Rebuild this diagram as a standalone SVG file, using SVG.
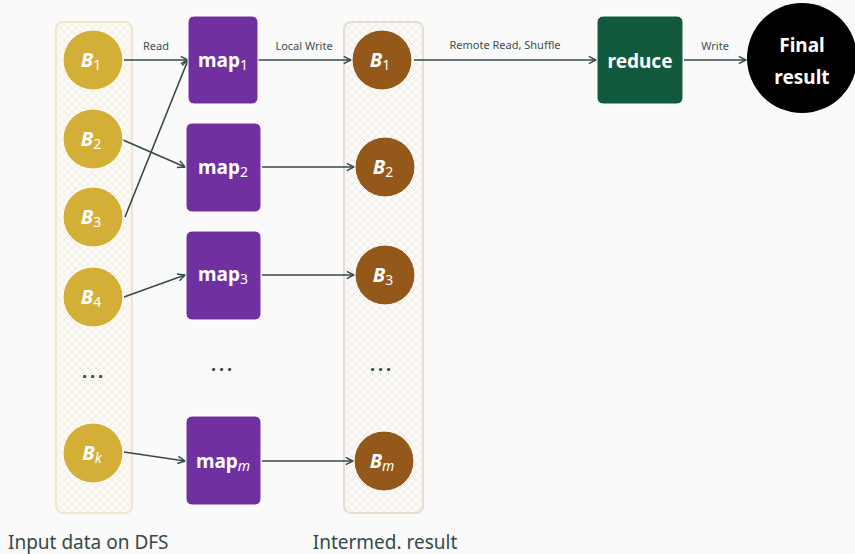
<svg xmlns="http://www.w3.org/2000/svg" width="855" height="554" viewBox="0 0 855 554">
<defs>
<pattern id="hatchY" width="8" height="8" patternUnits="userSpaceOnUse">
<path d="M0 0L8 8M8 0L0 8" stroke="#efe8d4" stroke-width="0.7"/>
</pattern>
<pattern id="hatchB" width="8" height="8" patternUnits="userSpaceOnUse">
<path d="M0 0L8 8M8 0L0 8" stroke="#ebe2d9" stroke-width="0.7"/>
</pattern>
<marker id="arr" viewBox="0 0 10 10" refX="9" refY="5" markerWidth="9" markerHeight="9" markerUnits="userSpaceOnUse" orient="auto">
<path d="M1 1L9 5L1 9" fill="none" stroke="#34494a" stroke-width="1.6" stroke-linejoin="miter"/>
</marker>
<style>
.edge{stroke:#34494a;stroke-width:1.6;fill:none;marker-end:url(#arr)}
.el{font-family:"Noto Sans","Open Sans",sans-serif;font-size:11px;fill:#3c4f50;text-anchor:middle}
.bt{font-family:"Noto Sans","Open Sans",sans-serif;font-size:20px;font-weight:bold;font-style:italic;fill:#fff;text-anchor:middle}
.sub{font-style:italic;font-weight:normal;font-size:14px}
.subn{font-style:normal;font-weight:normal;font-size:14px}
.mt{font-family:"Noto Sans","Open Sans",sans-serif;font-size:19px;font-weight:bold;fill:#fff;text-anchor:middle}
.yc{fill:#d4af37;stroke:#fff;stroke-width:1}
.bc{fill:#93581a;stroke:#fff;stroke-width:1}
.mb{fill:#7030a0;stroke:#fff;stroke-width:1}
.dots{font-family:"Noto Sans","Open Sans",sans-serif;font-size:18px;font-weight:bold;fill:#34494a;text-anchor:middle;letter-spacing:3px}
.cap{font-family:"Noto Sans","Open Sans",sans-serif;font-size:19px;fill:#34494a}
</style>
</defs>
<rect width="855" height="554" fill="#fafafa"/>

<g id="input-container">
<rect x="56" y="22" width="76" height="491" rx="7" fill="#fbfaf6" stroke="#f1e6c7" stroke-width="2"/>
<rect x="57" y="23" width="74" height="489" rx="6" fill="url(#hatchY)"/>
</g>
<g id="intermed-container">
<rect x="344" y="22" width="79" height="491" rx="7" fill="#fbfaf8" stroke="#e8dcce" stroke-width="2"/>
<rect x="345" y="23" width="77" height="489" rx="6" fill="url(#hatchB)"/>
</g>

<g id="connectors">
<line class="edge" x1="124" y1="60" x2="188" y2="60"/>
<text class="el" x="156" y="50">Read</text>
<line class="edge" x1="123" y1="140" x2="185" y2="167"/>
<line class="edge" x1="125" y1="217" x2="188" y2="60"/>
<line class="edge" x1="124" y1="297" x2="185" y2="275"/>
<line class="edge" x1="124" y1="452" x2="185" y2="461"/>
<line class="edge" x1="258" y1="60" x2="351" y2="60"/>
<text class="el" x="304" y="50">Local Write</text>
<line class="edge" x1="262" y1="167" x2="354" y2="167"/>
<line class="edge" x1="262" y1="275" x2="354" y2="275"/>
<line class="edge" x1="262" y1="461" x2="353" y2="461"/>
<line class="edge" x1="414" y1="60" x2="596" y2="60"/>
<text class="el" x="505" y="49">Remote Read, Shuffle</text>
<line class="edge" x1="684" y1="60" x2="746" y2="60"/>
<text class="el" x="715" y="50">Write</text>
</g>

<g id="B1"><circle class="yc" cx="93" cy="60" r="30"/><text class="bt" x="91" y="67">B<tspan class="subn" dy="3">1</tspan></text></g>
<g id="B2"><circle class="yc" cx="93" cy="139" r="30"/><text class="bt" x="91" y="146">B<tspan class="subn" dy="3">2</tspan></text></g>
<g id="B3"><circle class="yc" cx="93" cy="217" r="30"/><text class="bt" x="91" y="224">B<tspan class="subn" dy="3">3</tspan></text></g>
<g id="B4"><circle class="yc" cx="93" cy="297" r="30"/><text class="bt" x="91" y="304">B<tspan class="subn" dy="3">4</tspan></text></g>
<g id="input-dots"><text class="dots" x="94" y="378">...</text></g>
<g id="Bk"><circle class="yc" cx="93" cy="453" r="30"/><text class="bt" x="92" y="460">B<tspan class="sub" font-weight="bold" dy="3">k</tspan></text></g>

<g id="map1"><rect class="mb" x="188" y="16" width="70" height="88" rx="6"/><text class="mt" x="223" y="67">map<tspan class="subn" dy="3">1</tspan></text></g>
<g id="map2"><rect class="mb" x="186" y="123" width="75" height="89" rx="6"/><text class="mt" x="223" y="174">map<tspan class="subn" dy="3">2</tspan></text></g>
<g id="map3"><rect class="mb" x="186" y="231" width="75" height="89" rx="6"/><text class="mt" x="223" y="281">map<tspan class="subn" dy="3">3</tspan></text></g>
<g id="map-dots"><text class="dots" x="223" y="371">...</text></g>
<g id="mapm"><rect class="mb" x="186" y="416" width="75" height="89" rx="6"/><text class="mt" x="223" y="468">map<tspan class="sub" dy="3">m</tspan></text></g>

<g id="I1"><circle class="bc" cx="382" cy="60" r="30"/><text class="bt" x="380" y="67">B<tspan class="subn" dy="3">1</tspan></text></g>
<g id="I2"><circle class="bc" cx="385" cy="167" r="30"/><text class="bt" x="383" y="174">B<tspan class="subn" dy="3">2</tspan></text></g>
<g id="I3"><circle class="bc" cx="385" cy="275" r="30"/><text class="bt" x="383" y="282">B<tspan class="subn" dy="3">3</tspan></text></g>
<g id="inter-dots"><text class="dots" x="382" y="371">...</text></g>
<g id="Im"><circle class="bc" cx="384" cy="461" r="30"/><text class="bt" x="382" y="468">B<tspan class="sub" font-weight="bold" dy="3">m</tspan></text></g>

<g id="reduce"><rect x="597" y="16" width="86" height="88" rx="6" fill="#125a3e" stroke="#fff" stroke-width="1"/><text class="mt" x="640" y="68" font-size="21">reduce</text></g>
<g id="final"><circle cx="802" cy="58" r="55" fill="#000"/><text class="mt" x="802" y="52" font-size="22">Final</text><text class="mt" x="802" y="84" font-size="22">result</text></g>

<g id="captions">
<text class="cap" x="8" y="549">Input data on DFS</text>
<text class="cap" x="385" y="549" text-anchor="middle" font-size="20">Intermed. result</text>
</g>
</svg>
